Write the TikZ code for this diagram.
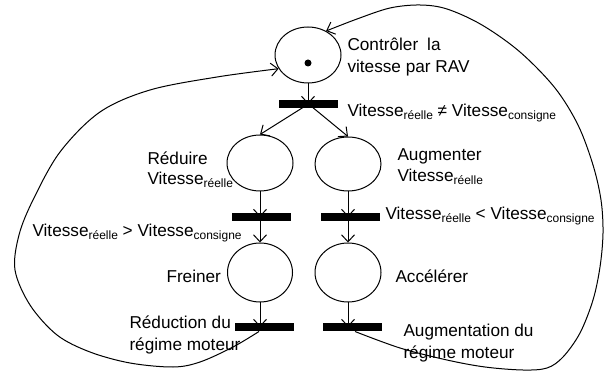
\documentclass[tikz,border=0pt]{standalone}
\usepackage{fontspec}
\setmainfont{Liberation Sans}
\usetikzlibrary{arrows.meta,shapes.geometric,calc}
% lowered, smaller index text
\newcommand\idx[1]{\raisebox{-2.5pt}{\fontsize{12}{12}\selectfont #1}}
\begin{document}
\begin{tikzpicture}[x=1pt,y=-1pt,line width=1pt,
  place/.style={ellipse,draw,minimum width=66pt,minimum height=56pt,inner sep=0pt},
  bar/.style={fill=black,minimum width=59pt,minimum height=8pt,inner sep=0pt},
  lbl/.style={anchor=base west,inner sep=0pt,font=\fontsize{17.2}{20}\selectfont},
  arc/.style={-{Straight Barb[length=7pt,width=13pt]}},
  token/.style={circle,fill=black,minimum size=7pt,inner sep=0pt}]
\useasboundingbox (0,0) rectangle (605,371);

% places
\node[place] (pC) at (308,55) {};
\node[token] (tok) at (308,63) {};
\node[place] (pR) at (260,163) {};
\node[place,minimum height=54pt] (pA) at (348,164) {};
\node[place,minimum width=65pt,minimum height=59pt] (pF) at (260,272.5) {};
\node[place,minimum width=66pt,minimum height=59pt] (pX) at (348,272.5) {};

% transitions
\node[bar] (t0) at (308.5,104) {};
\node[bar] (tR) at (261.5,217) {};
\node[bar] (tA) at (350,217) {};
\node[bar] (tF) at (264,327) {};
\node[bar] (tX) at (352,327) {};

% arcs
\draw[arc] (pC.south) -- (pC.south |- t0.center);
\draw[arc] (t0.center) -- (pR.north);
\draw[arc] (t0.center) -- (pA.north);
\draw[arc] (pR.south) -- (pR.south |- tR.center);
\draw[arc] (pR.north |- tR.center) -- (pF.north);
\draw[arc] (pA.south) -- (pA.south |- tA.center);
\draw[arc] (pA.north |- tA.center) -- (pX.north);
\draw[arc] (pF.south) -- (pF.south |- tF.center);
\draw[arc] (pX.south) -- (pX.south |- tX.center);

% return loops
\draw[arc] plot[smooth,tension=0.55] coordinates {
  ([xshift=-5pt]tF.south) (233,347) (200,362) (173,367) (130,363) (90,352)
  (57,335) (30,305) (15,270) (19,235) (33,200) (60,152) (100,112) (150,90)
  (217,77) (pC.205)};
\draw[arc] plot[smooth,tension=0.55] coordinates {
  ([xshift=3pt]tX.south) (400,348) (447,360) (485,367) (523,370) (547,368)
  (563,357) (580,333) (593,300) (600,267) (603,233) (601,200) (593,165)
  (578,125) (555,88) (520,52) (482,25) (447,9) (420,5) (390,8) (357,19)
  (pC.53)};

% labels
\node[lbl] (lC1) at (347,51) {Contrôler\hspace{9pt}la};
\node[lbl] (lC2) at (347,73) {vitesse par RAV};
\node[lbl] (l0) at (347,117) {Vitesse\idx{réelle} ≠ Vitesse\idx{consigne}};
\node[lbl] (lR1) at (147,165) {Réduire};
\node[lbl] (lR2) at (147,185) {Vitesse\idx{réelle}};
\node[lbl] (lA1) at (397,161) {Augmenter};
\node[lbl] (lA2) at (397,182) {Vitesse\idx{réelle}};
\node[lbl] (lR3) at (32,237) {Vitesse\idx{réelle} > Vitesse\idx{consigne}};
\node[lbl] (lA3) at (385,220) {Vitesse\idx{réelle} < Vitesse\idx{consigne}};
\node[lbl] (lF) at (166,283) {Freiner};
\node[lbl] (lX) at (395,283) {Accélérer};
\node[lbl] (lF1) at (129,328) {Réduction du};
\node[lbl] (lF2) at (129,350) {régime moteur};
\node[lbl] (lX1) at (403,336) {Augmentation du};
\node[lbl] (lX2) at (403,358) {régime moteur};
\end{tikzpicture}
\end{document}
